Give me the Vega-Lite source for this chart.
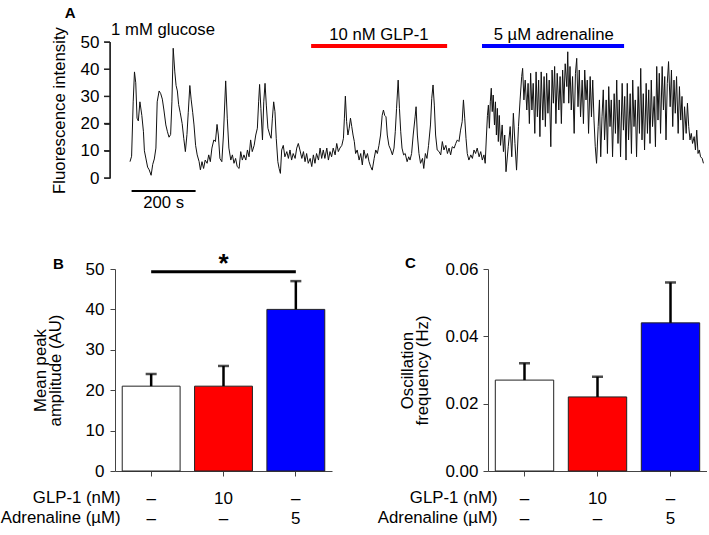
{
"$schema": "https://vega.github.io/schema/vega-lite/v6.json",
"padding": {"left": 0, "top": 6, "right": 0, "bottom": 0},
"background": "white",
"config": {"font": "Liberation Sans", "view": {"stroke": null},
  "axis": {"domainColor": "#444", "tickColor": "#444", "labelColor": "#000", "titleColor": "#000", "labelFontSize": 17, "titleFontSize": 16.8, "titleFontWeight": "normal", "grid": false, "labelFont": "Liberation Sans", "titleFont": "Liberation Sans"}},
"datasets": {
"trace": [
{"t":0,"f":6},{"t":5,"f":8},{"t":10,"f":28},{"t":14,"f":39},{"t":18,"f":35},{"t":22,"f":22},{"t":26,"f":21},{"t":31,"f":28},{"t":37,"f":23},{"t":42,"f":17},{"t":45,"f":10},{"t":50,"f":7},{"t":55,"f":4},{"t":60,"f":3},{"t":66,"f":1},{"t":71,"f":5},{"t":76,"f":7},{"t":81,"f":11},{"t":85,"f":28},{"t":91,"f":32},{"t":96,"f":31},{"t":101,"f":29},{"t":106,"f":25},{"t":112,"f":19.5},{"t":117,"f":17},{"t":122,"f":15},{"t":127,"f":16},{"t":131,"f":28},{"t":135,"f":47.7},{"t":140,"f":39},{"t":144,"f":34},{"t":148,"f":32},{"t":152,"f":27},{"t":157,"f":24},{"t":163,"f":20},{"t":168,"f":14.6},{"t":173,"f":9.7},{"t":178,"f":16},{"t":182,"f":24},{"t":187,"f":34},{"t":191,"f":29},{"t":196,"f":24},{"t":200,"f":19.5},{"t":205,"f":12},{"t":210,"f":8.5},{"t":216,"f":6},{"t":220,"f":3},{"t":225,"f":6},{"t":230,"f":3.5},{"t":235,"f":6.6},{"t":241,"f":5.4},{"t":246,"f":8.5},{"t":251,"f":6},{"t":256,"f":11},{"t":262,"f":14},{"t":267,"f":13.4},{"t":272,"f":19.7},{"t":276,"f":15.8},
{"t":281,"f":7.2},{"t":287,"f":6},{"t":292,"f":15.8},{"t":299,"f":35.7},{"t":304,"f":22},{"t":309,"f":11},{"t":315,"f":6.6},{"t":320,"f":8.5},{"t":325,"f":5.4},{"t":330,"f":7.2},{"t":335,"f":4.2},{"t":341,"f":3.5},{"t":346,"f":9.7},{"t":351,"f":6.6},{"t":356,"f":8.5},{"t":362,"f":6.6},{"t":367,"f":10.3},{"t":372,"f":7.8},{"t":377,"f":14},{"t":382,"f":9.7},{"t":388,"f":12},{"t":393,"f":15.8},{"t":398,"f":18.3},{"t":402,"f":28},{"t":405,"f":34.4},{"t":409,"f":25.6},{"t":414,"f":14},{"t":418,"f":28},{"t":422,"f":34.8},{"t":426,"f":26.8},{"t":431,"f":18.3},{"t":437,"f":15.8},{"t":441,"f":14.6},{"t":445,"f":22},{"t":449,"f":28},{"t":453,"f":24.4},{"t":457,"f":14.6},{"t":462,"f":6},{"t":466,"f":3.5},{"t":470,"f":1.7},{"t":474,"f":10.3},{"t":479,"f":12},{"t":484,"f":7.8},{"t":490,"f":9.7},{"t":495,"f":7.2},{"t":500,"f":10.3},{"t":505,"f":6.6},{"t":510,"f":9},{"t":516,"f":7.2},{"t":521,"f":11},{"t":526,"f":12.7},{"t":531,"f":10.3},{"t":537,"f":7.2},{"t":542,"f":9.7},{"t":547,"f":6},{"t":552,"f":9},{"t":557,"f":5.4},{"t":563,"f":7.2},{"t":568,"f":4.2},{"t":573,"f":8.5},
{"t":578,"f":5.4},{"t":583,"f":9},{"t":589,"f":6.6},{"t":594,"f":11},{"t":599,"f":7.2},{"t":604,"f":10.3},{"t":609,"f":7.2},{"t":615,"f":11},{"t":620,"f":6.6},{"t":625,"f":9.7},{"t":630,"f":7.8},{"t":635,"f":11},{"t":641,"f":8.5},{"t":646,"f":12.7},{"t":651,"f":9.7},{"t":656,"f":11},{"t":662,"f":12},{"t":667,"f":14.6},{"t":670,"f":22},{"t":673,"f":30.1},{"t":677,"f":20.7},{"t":681,"f":15.8},{"t":685,"f":18.3},{"t":689,"f":22},{"t":693,"f":18.9},{"t":697,"f":15.8},{"t":701,"f":13.4},{"t":705,"f":9},{"t":710,"f":10.3},{"t":716,"f":6.6},{"t":721,"f":9},{"t":726,"f":4.8},{"t":731,"f":10.3},{"t":737,"f":7.2},{"t":742,"f":9},{"t":747,"f":6},{"t":752,"f":4.2},{"t":757,"f":2.9},{"t":763,"f":7.2},{"t":768,"f":10.3},{"t":773,"f":9},{"t":778,"f":12},{"t":783,"f":15.8},{"t":788,"f":23},{"t":792,"f":25},{"t":796,"f":23},{"t":800,"f":22.5},{"t":804,"f":15.8},{"t":809,"f":12},{"t":815,"f":10.3},{"t":820,"f":8.5},{"t":825,"f":11},{"t":829,"f":17},{"t":833,"f":25.6},{"t":838,"f":36},{"t":842,"f":25.6},{"t":846,"f":17},{"t":850,"f":11},{"t":855,"f":8.5},{"t":860,"f":9},{"t":866,"f":6},{"t":871,"f":7.8},
{"t":875,"f":6.6},{"t":880,"f":9},{"t":885,"f":15.8},{"t":891,"f":22.5},{"t":894,"f":26.2},{"t":898,"f":15.8},{"t":903,"f":9},{"t":908,"f":5.4},{"t":914,"f":7.2},{"t":918,"f":3.5},{"t":923,"f":9},{"t":928,"f":7.2},{"t":933,"f":12},{"t":939,"f":19.5},{"t":943,"f":29.3},{"t":947,"f":34.2},{"t":951,"f":26.8},{"t":955,"f":15.8},{"t":960,"f":10.3},{"t":966,"f":9.7},{"t":971,"f":8.5},{"t":976,"f":13.4},{"t":981,"f":10.3},{"t":987,"f":12},{"t":992,"f":9},{"t":997,"f":11},{"t":1002,"f":8.5},{"t":1007,"f":11.5},{"t":1013,"f":11},{"t":1018,"f":12.7},{"t":1023,"f":14},{"t":1028,"f":13.4},{"t":1033,"f":17.6},{"t":1038,"f":20.7},{"t":1042,"f":28.7},{"t":1046,"f":22},{"t":1050,"f":14.6},{"t":1054,"f":9},{"t":1059,"f":6.6},{"t":1065,"f":8.5},{"t":1070,"f":7.2},{"t":1075,"f":10.3},{"t":1080,"f":9},{"t":1085,"f":11},{"t":1091,"f":7.8},{"t":1096,"f":9.7},{"t":1101,"f":6.6},{"t":1106,"f":8.5},{"t":1110,"f":5.4},{"t":1114,"f":15.8},{"t":1117,"f":23},{"t":1120,"f":26.8},{"t":1123,"f":18.3},{"t":1126,"f":28},{"t":1129,"f":33},{"t":1132,"f":24.4},{"t":1135,"f":30.5},{"t":1139,"f":19.5},{"t":1142,"f":28},{"t":1145,"f":15.8},{"t":1148,"f":25.6},{"t":1151,"f":13.4},{"t":1154,"f":23},{"t":1158,"f":12},{"t":1163,"f":19.5},{"t":1167,"f":9.7},{"t":1171,"f":15.8},{"t":1175,"f":2.3},
{"t":1182,"f":11.5},{"t":1188,"f":18.9},{"t":1193,"f":7.8},{"t":1198,"f":23.8},{"t":1203,"f":12.7},{"t":1208,"f":2.9},{"t":1214,"f":18.9},{"t":1219,"f":28.7},{"t":1224,"f":37.3},{"t":1227,"f":40.3},{"t":1231,"f":28.7},{"t":1235,"f":36},{"t":1240,"f":25},{"t":1244,"f":34.8},{"t":1248,"f":20},{"t":1252,"f":38.5},{"t":1256,"f":25},{"t":1260,"f":34.8},{"t":1265,"f":16.4},{"t":1269,"f":39},{"t":1273,"f":22.5},{"t":1277,"f":36},{"t":1281,"f":15.2},{"t":1285,"f":39},{"t":1290,"f":21.3},{"t":1294,"f":37.3},{"t":1298,"f":18.9},{"t":1302,"f":38.5},{"t":1306,"f":23.8},{"t":1310,"f":36},{"t":1315,"f":11.5},{"t":1319,"f":39.7},{"t":1323,"f":27.5},{"t":1327,"f":41},{"t":1331,"f":20},{"t":1335,"f":38.5},{"t":1340,"f":25},{"t":1344,"f":37.3},{"t":1348,"f":20},{"t":1352,"f":39.7},{"t":1356,"f":27.5},{"t":1360,"f":42},{"t":1365,"f":33.6},{"t":1368,"f":46.4},{"t":1371,"f":27.5},{"t":1375,"f":41},{"t":1379,"f":25},{"t":1383,"f":37.3},{"t":1388,"f":16.4},{"t":1392,"f":38.5},{"t":1396,"f":44},{"t":1400,"f":26.2},{"t":1404,"f":39.7},{"t":1408,"f":22.5},{"t":1413,"f":36},{"t":1417,"f":20},{"t":1421,"f":39.7},{"t":1425,"f":28.7},{"t":1429,"f":36},{"t":1433,"f":16.4},{"t":1438,"f":37.3},{"t":1442,"f":22.5},{"t":1446,"f":36},{"t":1450,"f":21.3},{"t":1454,"f":11.5},{"t":1458,"f":5.4},{"t":1463,"f":18.9},{"t":1467,"f":28.7},{"t":1471,"f":7.8},{"t":1475,"f":22.5},{"t":1479,"f":32.4},{"t":1483,"f":14},{"t":1488,"f":28.7},{"t":1492,"f":9},{"t":1496,"f":33.6},{"t":1500,"f":18.9},{"t":1504,"f":28.7},{"t":1508,"f":7.8},{"t":1513,"f":31},{"t":1517,"f":16.4},{"t":1521,"f":36},{"t":1525,"f":12.7},{"t":1529,"f":28.7},{"t":1533,"f":7.8},{"t":1538,"f":34.8},{"t":1542,"f":17.6},{"t":1546,"f":30},{"t":1550,"f":6.6},{"t":1554,"f":34.8},{"t":1558,"f":14},{"t":1563,"f":31},{"t":1567,"f":9},{"t":1571,"f":36},{"t":1575,"f":18.9},{"t":1579,"f":28.7},{"t":1583,"f":7.8},{"t":1588,"f":33.6},{"t":1592,"f":16.4},{"t":1596,"f":40.3},{"t":1600,"f":14},{"t":1604,"f":31},{"t":1608,"f":10.3},{"t":1613,"f":34.8},{"t":1617,"f":16.4},{"t":1621,"f":32.4},{"t":1625,"f":12.7},{"t":1629,"f":36},{"t":1633,"f":18.9},{"t":1638,"f":30},{"t":1642,"f":11.5},{"t":1646,"f":41},{"t":1650,"f":21.3},{"t":1654,"f":38.5},{"t":1658,"f":16.4},{"t":1663,"f":41},{"t":1667,"f":25},{"t":1671,"f":37.3},{"t":1675,"f":14},{"t":1679,"f":34.8},{"t":1683,"f":42.8},{"t":1688,"f":26.2},{"t":1692,"f":39.7},{"t":1696,"f":18.9},{"t":1700,"f":36},{"t":1704,"f":23.8},{"t":1708,"f":37.3},{"t":1713,"f":16.4},{"t":1717,"f":33.6},{"t":1721,"f":21.3},{"t":1725,"f":30},{"t":1729,"f":14},{"t":1733,"f":26.2},{"t":1738,"f":16.4},{"t":1742,"f":27.5},{"t":1746,"f":18.9},{"t":1750,"f":14},{"t":1754,"f":16.4},{"t":1758,"f":12.7},{"t":1763,"f":15.2},{"t":1767,"f":10.3},{"t":1771,"f":17.6},{"t":1775,"f":9},{"t":1779,"f":10.3},{"t":1783,"f":7.8},{"t":1788,"f":7.2},{"t":1792,"f":5.4}
],
"treat": [
{"label": "10 nM GLP-1", "drug": "GLP-1", "start": 566, "end": 991, "mid": 778},
{"label": "5 µM adrenaline", "drug": "adrenaline", "start": 1100, "end": 1544, "mid": 1324}
],
"yticks": [{"v": 0}, {"v": 10}, {"v": 20}, {"v": 30}, {"v": 40}, {"v": 50}],
"bars": [
{"g": "ctrl", "amp": 21, "ampHi": 24, "freq": 0.027, "freqHi": 0.032},
{"g": "glp", "amp": 21, "ampHi": 26, "freq": 0.022, "freqHi": 0.028},
{"g": "adr", "amp": 40, "ampHi": 47, "freq": 0.044, "freqHi": 0.056}
]
},
"spacing": 91,
"bounds": "flush",
"vconcat": [
{
"width": 592, "height": 136,
"resolve": {"axis": {"y": "independent", "x": "independent"}},
"layer": [
{"data": {"name": "trace"}, "mark": {"type": "line", "color": "#111", "strokeWidth": 1},
 "encoding": {
  "x": {"field": "t", "type": "quantitative", "scale": {"domain": [-46.875, 1803.125], "nice": false, "zero": false}, "axis": null},
  "y": {"field": "f", "type": "quantitative", "scale": {"domain": [0, 50], "nice": false},
   "axis": {"values": [0, 10, 20, 30, 40, 50], "offset": 5, "domain": true, "ticks": true, "tickSize": 6, "labelPadding": 5, "labelFontSize": 17, "title": "Fluorescence intensity", "titleX": -46, "titleY": 68, "titleAngle": -90, "titleAlign": "center", "titleBaseline": "alphabetic"}}}},
{"data": {"values": [{"lo": 0, "hi": 50}]}, "mark": {"type": "rule", "color": "#222", "strokeWidth": 1.5},
 "encoding": {"x": {"datum": -62.5, "axis": null}, "y": {"field": "lo", "type": "quantitative", "axis": null}, "y2": {"field": "hi"}}},
{"data": {"name": "yticks"}, "mark": {"type": "rule", "color": "#222", "strokeWidth": 1.5},
 "encoding": {"x": {"datum": -81.25, "axis": null}, "x2": {"datum": -62.5}, "y": {"field": "v", "type": "quantitative", "axis": null}}},
{"data": {"name": "treat"}, "mark": {"type": "rule", "strokeWidth": 4},
 "encoding": {"x": {"field": "start", "type": "quantitative", "axis": null}, "x2": {"field": "end"}, "y": {"datum": 48.5, "axis": null},
  "color": {"field": "drug", "type": "nominal", "scale": {"domain": ["GLP-1", "adrenaline"], "range": ["#ff0000", "#0000ff"]}, "legend": null}}},
{"data": {"name": "treat"}, "mark": {"type": "text", "fontSize": 16.7, "baseline": "alphabetic", "color": "#000"},
 "encoding": {"x": {"field": "mid", "type": "quantitative", "axis": null}, "y": {"datum": 50.9, "axis": null}, "text": {"field": "label"}}},
{"data": {"values": [{"label": "1 mM glucose"}]}, "mark": {"type": "text", "fontSize": 16.7, "align": "left", "baseline": "alphabetic", "color": "#000"},
 "encoding": {"x": {"datum": -59, "axis": null}, "y": {"datum": 52.4, "axis": null}, "text": {"field": "label"}}},
{"data": {"values": [{"label": "A"}]}, "mark": {"type": "text", "fontSize": 15, "fontWeight": "bold", "align": "center", "baseline": "alphabetic", "color": "#000"},
 "encoding": {"x": {"datum": -187, "axis": null}, "y": {"datum": 58.8, "axis": null}, "text": {"field": "label"}}},
{"data": {"values": [{"from": 5, "to": 205}]}, "mark": {"type": "rule", "strokeWidth": 2, "color": "#000"},
 "encoding": {"x": {"field": "from", "type": "quantitative", "axis": null}, "x2": {"field": "to"}, "y": {"datum": -4.8, "axis": null}}},
{"data": {"values": [{"label": "200 s"}]}, "mark": {"type": "text", "fontSize": 16.7, "align": "center", "baseline": "alphabetic", "color": "#000"},
 "encoding": {"x": {"datum": 105, "axis": null}, "y": {"datum": -11, "axis": null}, "text": {"field": "label"}}}
]
},
{
"hconcat": [
{
"width": 217, "height": 202,
"title": {"text": "B", "anchor": "start", "frame": "group", "fontSize": 15, "fontWeight": "bold", "dx": -62, "dy": 33, "baseline": "alphabetic", "offset": 0},
"data": {"name": "bars"},
"layer": [
{"mark": {"type": "bar", "stroke": "#222", "strokeWidth": 1},
 "encoding": {
  "x": {"field": "g", "type": "nominal", "scale": {"domain": ["ctrl", "glp", "adr"], "paddingInner": 0.2, "paddingOuter": 0.1},
   "axis": {"title": ["GLP-1 (nM)", "Adrenaline (µM)"], "titleAlign": "right", "titleX": 5, "titleY": 31, "titleBaseline": "alphabetic", "titleLineHeight": 20, "labelExpr": "datum.value == 'ctrl' ? ['–','–'] : datum.value == 'glp' ? ['10','–'] : ['–','5']", "labelAngle": 0, "labelBaseline": "top", "labelPadding": 14, "labelLineHeight": 20, "tickSize": 5}},
  "y": {"field": "amp", "type": "quantitative", "scale": {"domain": [0, 50], "nice": false},
   "axis": {"values": [0, 10, 20, 30, 40, 50], "tickSize": 5, "labelPadding": 6, "title": ["Mean peak", "amplitude (AU)"], "titleX": -70, "titleY": 101, "titleAngle": -90, "titleAlign": "center", "titleBaseline": "alphabetic", "titleLineHeight": 15}},
  "fill": {"field": "g", "type": "nominal", "scale": {"domain": ["ctrl", "glp", "adr"], "range": ["#ffffff", "#ff0000", "#0000ff"]}, "legend": null}}},
{"mark": {"type": "rule", "strokeWidth": 2.5, "color": "#000"},
 "encoding": {"x": {"field": "g", "type": "nominal"}, "y": {"field": "amp", "type": "quantitative"}, "y2": {"field": "ampHi"}}},
{"mark": {"type": "tick", "thickness": 2.5, "size": 11, "color": "#000"},
 "encoding": {"x": {"field": "g", "type": "nominal"}, "y": {"field": "ampHi", "type": "quantitative"}}},
{"data": {"values": [{"from": "ctrl", "to": "adr"}]}, "mark": {"type": "rule", "strokeWidth": 3, "color": "#000"},
 "encoding": {"x": {"field": "from", "type": "nominal"}, "x2": {"field": "to"}, "y": {"datum": 49.3}}},
{"data": {"values": [{"g": "glp", "s": "*"}]}, "mark": {"type": "text", "fontSize": 26, "fontWeight": "bold", "baseline": "alphabetic", "color": "#000"},
 "encoding": {"x": {"field": "g", "type": "nominal"}, "y": {"datum": 49.3}, "text": {"field": "s"}}}
]
},
{
"width": 219, "height": 202,
"title": {"text": "C", "anchor": "start", "frame": "group", "fontSize": 15, "fontWeight": "bold", "dx": -83, "dy": 23, "baseline": "alphabetic", "offset": 0},
"data": {"name": "bars"},
"layer": [
{"mark": {"type": "bar", "stroke": "#222", "strokeWidth": 1},
 "encoding": {
  "x": {"field": "g", "type": "nominal", "scale": {"domain": ["ctrl", "glp", "adr"], "paddingInner": 0.2, "paddingOuter": 0.1},
   "axis": {"title": ["GLP-1 (nM)", "Adrenaline (µM)"], "titleAlign": "right", "titleX": 9, "titleY": 31, "titleBaseline": "alphabetic", "titleLineHeight": 20, "labelExpr": "datum.value == 'ctrl' ? ['–','–'] : datum.value == 'glp' ? ['10','–'] : ['–','5']", "labelAngle": 0, "labelBaseline": "top", "labelPadding": 14, "labelLineHeight": 20, "tickSize": 5}},
  "y": {"field": "freq", "type": "quantitative", "scale": {"domain": [0, 0.06], "nice": false},
   "axis": {"values": [0, 0.02, 0.04, 0.06], "format": ".2f", "tickSize": 5, "labelPadding": 5, "title": ["Oscillation", "frequency (Hz)"], "titleX": -76, "titleY": 101, "titleAngle": -90, "titleAlign": "center", "titleBaseline": "alphabetic", "titleLineHeight": 15}},
  "fill": {"field": "g", "type": "nominal", "scale": {"domain": ["ctrl", "glp", "adr"], "range": ["#ffffff", "#ff0000", "#0000ff"]}, "legend": null}}},
{"mark": {"type": "rule", "strokeWidth": 2.5, "color": "#000"},
 "encoding": {"x": {"field": "g", "type": "nominal"}, "y": {"field": "freq", "type": "quantitative"}, "y2": {"field": "freqHi"}}},
{"mark": {"type": "tick", "thickness": 2.5, "size": 11, "color": "#000"},
 "encoding": {"x": {"field": "g", "type": "nominal"}, "y": {"field": "freqHi", "type": "quantitative"}}}
]
}
],
"spacing": 156,
"bounds": "flush"
}
]
}
